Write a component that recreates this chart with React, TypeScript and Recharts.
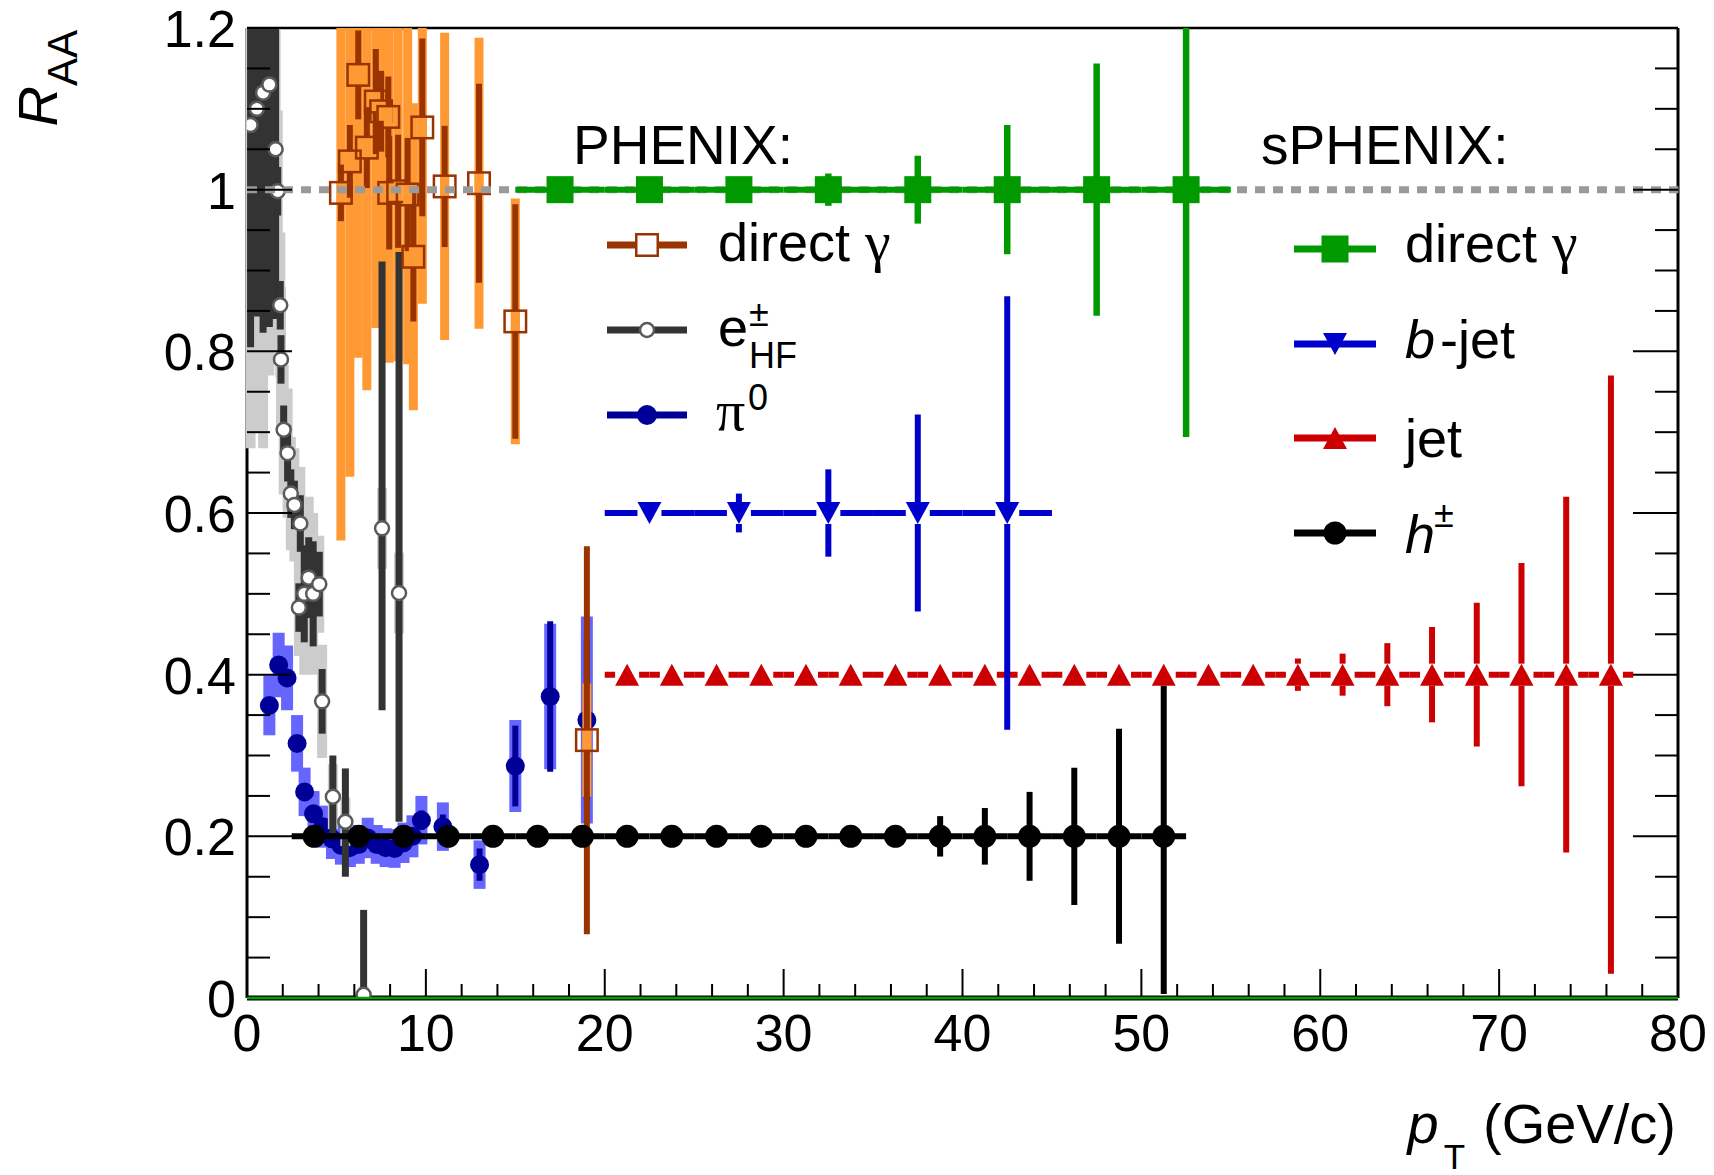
import React from 'react';
import { ComposedChart, Scatter, XAxis, YAxis, ErrorBar, ReferenceLine } from 'recharts';

const FONT = '"Liberation Sans", Arial, Helvetica, sans-serif';
const GREEK = '"Liberation Serif", "DejaVu Serif", serif';
const Y_MAX = 1.2;

// axis ticks
const xTicks = [0, 2, 4, 6, 8, 10, 12, 14, 16, 18, 20, 22, 24, 26, 28, 30, 32, 34, 36, 38, 40, 42, 44, 46, 48, 50, 52, 54, 56, 58, 60, 62, 64, 66, 68, 70, 72, 74, 76, 78, 80];
const xLabels = [0, 10, 20, 30, 40, 50, 60, 70, 80];
const yTicks = [0, 0.05, 0.1, 0.15, 0.2, 0.25, 0.3, 0.35, 0.4, 0.45, 0.5, 0.55, 0.6, 0.65, 0.7, 0.75, 0.8, 0.85, 0.9, 0.95, 1, 1.05, 1.1, 1.15, 1.2];
const yLabels = ['0', '0.2', '0.4', '0.6', '0.8', '1', '1.2'];

// sPHENIX projections
const sGammaX = [17.5, 22.5, 27.5, 32.5, 37.5, 42.5, 47.5, 52.5];
const sGammaY = [1, 1, 1, 1, 1, 1, 1, 1];
const sGammaErr = [0.004, 0.007, 0.012, 0.02, 0.042, 0.08, 0.156, 0.306];
const sGammaBin = 2.5;

const bJetX = [22.5, 27.5, 32.5, 37.5, 42.5];
const bJetY = [0.6, 0.6, 0.6, 0.6, 0.6];
const bJetErr = [0.008, 0.024, 0.054, 0.122, 0.268];
const bJetBin = 2.5;

const jetX = [21.25, 23.75, 26.25, 28.75, 31.25, 33.75, 36.25, 38.75, 41.25, 43.75, 46.25, 48.75, 51.25, 53.75, 56.25, 58.75, 61.25, 63.75, 66.25, 68.75, 71.25, 73.75, 76.25];
const jetY = [0.4, 0.4, 0.4, 0.4, 0.4, 0.4, 0.4, 0.4, 0.4, 0.4, 0.4, 0.4, 0.4, 0.4, 0.4, 0.4, 0.4, 0.4, 0.4, 0.4, 0.4, 0.4, 0.4];
const jetErr = [0.003, 0.003, 0.003, 0.004, 0.004, 0.004, 0.005, 0.005, 0.006, 0.006, 0.007, 0.008, 0.009, 0.01, 0.012, 0.02, 0.026, 0.039, 0.059, 0.089, 0.138, 0.22, 0.37];
const jetBin = 1.25;

const hX = [3.75, 6.25, 8.75, 11.25, 13.75, 16.25, 18.75, 21.25, 23.75, 26.25, 28.75, 31.25, 33.75, 36.25, 38.75, 41.25, 43.75, 46.25, 48.75, 51.25];
const hY = [0.2, 0.2, 0.2, 0.2, 0.2, 0.2, 0.2, 0.2, 0.2, 0.2, 0.2, 0.2, 0.2, 0.2, 0.2, 0.2, 0.2, 0.2, 0.2, 0.2];
const hErr = [0.002, 0.002, 0.002, 0.003, 0.003, 0.003, 0.004, 0.004, 0.005, 0.005, 0.006, 0.007, 0.008, 0.01, 0.025, 0.035, 0.055, 0.085, 0.133, 0.195];
const hBin = 1.25;

// PHENIX direct photons
const gX = [5.25, 5.75, 6.22, 6.7, 7.2, 7.5, 7.9, 7.95, 8.45, 8.98, 9.3, 9.8, 11.05, 12.97, 15.0, 19.0];
const gY = [0.996, 1.035, 1.142, 1.052, 1.109, 1.097, 1.09, 0.996, 0.998, 0.994, 0.917, 1.077, 1.004, 1.008, 0.837, 0.319];
const gStat = [0.035, 0.045, 0.055, 0.05, 0.065, 0.05, 0.05, 0.07, 0.07, 0.07, 0.08, 0.11, 0.075, 0.123, 0.145, 0.24];
const gSys = [0.43, 0.39, 0.35, 0.3, 0.28, 0.256, 0.25, 0.21, 0.21, 0.21, 0.19, 0.218, 0.19, 0.18, 0.152, 0.07];

// PHENIX heavy-flavour electrons
const eX = [0.2, 0.55, 0.9, 1.25, 1.6, 1.72, 1.86, 1.9, 2.05, 2.27, 2.45, 2.65, 2.9, 2.98, 3.2, 3.45, 3.7, 4.04, 4.2, 4.8, 5.5, 6.52, 7.55, 8.5];
const eY = [1.08, 1.1, 1.12, 1.13, 1.05, 0.998, 0.857, 0.79, 0.703, 0.674, 0.624, 0.61, 0.483, 0.587, 0.5, 0.52, 0.5, 0.512, 0.367, 0.249, 0.218, 0.004, 0.581, 0.501];
const eStatLo = [0.275, 0.257, 0.297, 0.3, 0.21, 0.03, 0.03, 0.03, 0.03, 0.035, 0.03, 0.03, 0.03, 0.035, 0.06, 0.05, 0.065, 0.04, 0.04, 0.045, 0.068, 0.004, 0.225, 0.283];
const eStatHi = [0.4, 0.4, 0.4, 0.4, 0.3, 0.03, 0.03, 0.03, 0.03, 0.035, 0.03, 0.03, 0.03, 0.035, 0.06, 0.05, 0.065, 0.04, 0.04, 0.051, 0.066, 0.105, 0.33, 0.422];
const eSys = [0.4, 0.4, 0.44, 0.36, 0.25, 0.1, 0.09, 0.09, 0.08, 0.08, 0.07, 0.07, 0.06, 0.07, 0.1, 0.1, 0.1, 0.06, 0.07, 0.04, 0.03, 0.01, 0.05, 0.05];

// PHENIX pi0
const pX = [1.25, 1.77, 2.24, 2.8, 3.22, 3.72, 4.25, 4.75, 5.25, 5.75, 6.25, 6.75, 7.25, 7.75, 8.25, 8.75, 9.25, 9.75, 10.95, 13.0, 15.0, 16.95, 19.0];
const pY = [0.362, 0.412, 0.396, 0.315, 0.255, 0.228, 0.212, 0.197, 0.189, 0.186, 0.19, 0.198, 0.19, 0.186, 0.185, 0.192, 0.2, 0.22, 0.212, 0.165, 0.287, 0.373, 0.344];
const pStat = [0.01, 0.01, 0.01, 0.008, 0.008, 0.008, 0.008, 0.008, 0.008, 0.008, 0.008, 0.008, 0.008, 0.008, 0.009, 0.01, 0.01, 0.012, 0.015, 0.02, 0.05, 0.093, 0.1];
const pSys = [0.037, 0.04, 0.04, 0.035, 0.03, 0.028, 0.026, 0.025, 0.024, 0.024, 0.024, 0.025, 0.024, 0.024, 0.024, 0.025, 0.026, 0.03, 0.03, 0.03, 0.057, 0.09, 0.128];

// reference lines
const unityLine = [{ x: 40, y: 1, ex: 40 }];

const C = {
  gamma: '#993300', gammaSys: '#ff9933',
  ehf: '#333333', ehfSys: '#cccccc', ehfMarker: '#5a5a5a',
  pi0: '#000099', pi0Sys: '#6666ff',
  sGamma: '#009900', bJet: '#0000cc', jet: '#cc0000', h: '#000000',
  unity: '#9a9a9a', zero: '#00a000',
};

// bars stop at the frame
const clip = (y: number, lo: number, hi: number) => [Math.min(lo, y), Math.min(hi, Y_MAX - y)];

const sGammaData = sGammaX.map((x, i) => ({ x, y: sGammaY[i], ex: sGammaBin, ey: clip(sGammaY[i], sGammaErr[i], sGammaErr[i]) }));
const bJetData = bJetX.map((x, i) => ({ x, y: bJetY[i], ex: bJetBin, ey: clip(bJetY[i], bJetErr[i], bJetErr[i]) }));
const jetData = jetX.map((x, i) => ({ x, y: jetY[i], ex: jetBin, ey: clip(jetY[i], jetErr[i], jetErr[i]) }));
const hData = hX.map((x, i) => ({ x, y: hY[i], ex: hBin, ey: clip(hY[i], hErr[i], hErr[i]) }));
const gData = gX.map((x, i) => ({ x, y: gY[i], stat: clip(gY[i], gStat[i], gStat[i]), sys: clip(gY[i], gSys[i], gSys[i]) }));
const eData = eX.map((x, i) => ({ x, y: eY[i], stat: clip(eY[i], eStatLo[i], eStatHi[i]), sys: clip(eY[i], eSys[i], eSys[i]) }));
const pData = pX.map((x, i) => ({ x, y: pY[i], stat: clip(pY[i], pStat[i], pStat[i]), sys: clip(pY[i], pSys[i], pSys[i]) }));

const G_BOX = 9;

// markers
const drawSquare = (cx: number, cy: number, s: number, fill: string, stroke?: string, sw = 0) => (
  <rect x={cx - s / 2} y={cy - s / 2} width={s} height={s} fill={fill} stroke={stroke} strokeWidth={sw} />
);
// open square: the stat bar is not drawn inside the marker, the sys box shows through
const drawOpenSquare = (cx: number, cy: number) => (
  <g>
    <rect x={cx - G_BOX / 2} y={cy - 10.75} width={G_BOX} height={21.5} fill={C.gammaSys} />
    <rect x={cx - 10.75} y={cy - 10.75} width={21.5} height={21.5} fill="none" stroke={C.gamma} strokeWidth={2.5} />
  </g>
);
const drawCircle = (cx: number, cy: number, r: number, fill: string, stroke?: string, sw = 0) => (
  <circle cx={cx} cy={cy} r={r} fill={fill} stroke={stroke} strokeWidth={sw} />
);
const drawTriangle = (cx: number, cy: number, up: boolean, color: string, gap: boolean) => {
  const w = 12;
  const h = 11;
  const pts = up
    ? `${cx - w},${cy + h} ${cx + w},${cy + h} ${cx},${cy - h}`
    : `${cx - w},${cy - h} ${cx + w},${cy - h} ${cx},${cy + h}`;
  return (
    <g>
      {gap && <rect x={cx - w} y={cy - h} width={2 * w} height={2 * h} fill="#fff" />}
      <polygon points={pts} fill={color} />
    </g>
  );
};
const shapeOf = (draw: (cx: number, cy: number) => React.ReactElement) => (p: any) =>
  p.cx == null || p.cy == null ? <g /> : draw(p.cx, p.cy);
const blank = () => <g />;

// ticks, ROOT style (inward, minor + major)
const isMajorY = (v: number) => Math.abs(v * 5 - Math.round(v * 5)) < 1e-6;

const BottomTick = (p: any) => {
  const { x, y, payload } = p;
  const major = xLabels.includes(payload.value);
  return (
    <g>
      <line x1={x} x2={x} y1={y} y2={y - (major ? 29 : 14)} stroke="#000" strokeWidth={2} />
      {major && (
        <text x={x} y={y + 53} textAnchor="middle" fontSize={52} fontFamily={FONT} fill="#000">
          {payload.value}
        </text>
      )}
    </g>
  );
};
const TopTick = (p: any) => {
  const { x, y, payload } = p;
  const major = xLabels.includes(payload.value);
  return <line x1={x} x2={x} y1={y} y2={y + (major ? 30 : 15)} stroke="#000" strokeWidth={2} />;
};
const LeftTick = (p: any) => {
  const { x, y, payload } = p;
  const major = isMajorY(payload.value);
  return (
    <g>
      <line x1={x} x2={x + (major ? 45 : 23)} y1={y} y2={y} stroke="#000" strokeWidth={2} />
      {major && (
        <text x={x - 11} y={y + 19} textAnchor="end" fontSize={52} fontFamily={FONT} fill="#000">
          {yLabels[Math.round(payload.value * 5)]}
        </text>
      )}
    </g>
  );
};
const RightTick = (p: any) => {
  const { x, y, payload } = p;
  const major = isMajorY(payload.value);
  return <line x1={x} x2={x - (major ? 45 : 23)} y1={y} y2={y} stroke="#000" strokeWidth={2} />;
};

function Overlay() {
  const row = (x1: number, x2: number, y: number, color: string, marker: React.ReactElement) => (
    <g>
      <line x1={x1} x2={x2} y1={y} y2={y} stroke={color} strokeWidth={7} />
      {marker}
    </g>
  );
  return (
    <svg width={1714} height={1175} style={{ position: 'absolute', left: 0, top: 0, pointerEvents: 'none' }}>
      <g fontFamily={FONT} fill="#000">
        {/* PHENIX legend */}
        <text x={573} y={164} fontSize={55}>PHENIX:</text>
        {row(607, 687, 245, C.gamma, drawSquare(647, 245, 21.5, '#fff', C.gamma, 2.5))}
        <text x={718} y={261} fontSize={54}>
          direct <tspan fontFamily={GREEK} fontSize={58}>γ</tspan>
        </text>
        {row(607, 687, 330, C.ehf, drawCircle(647, 330, 7, '#fff', C.ehfMarker, 2.5))}
        <text x={718} y={346} fontSize={54}>e</text>
        <text x={749} y={326} fontSize={36}>±</text>
        <text x={749} y={368} fontSize={36}>HF</text>
        {row(607, 687, 415, C.pi0, drawCircle(647, 415, 10, C.pi0))}
        <text x={716} y={430} fontSize={58} fontFamily={GREEK}>π</text>
        <text x={748} y={410} fontSize={36}>0</text>

        {/* sPHENIX legend */}
        <text x={1261} y={164} fontSize={55}>sPHENIX:</text>
        {row(1294, 1376, 249, C.sGamma, drawSquare(1335, 249, 27, C.sGamma))}
        <text x={1405} y={262} fontSize={54}>
          direct <tspan fontFamily={GREEK} fontSize={58}>γ</tspan>
        </text>
        {row(1294, 1376, 344, C.bJet, drawTriangle(1335, 344, false, C.bJet, false))}
        <text x={1405} y={358} fontSize={54}>
          <tspan fontStyle="italic">b</tspan>
          <tspan dx={5}>-jet</tspan>
        </text>
        {row(1294, 1376, 438, C.jet, drawTriangle(1335, 438, true, C.jet, false))}
        <text x={1405} y={457} fontSize={54}>jet</text>
        {row(1294, 1376, 533, C.h, drawCircle(1335, 533, 11.5, C.h))}
        <text x={1405} y={553} fontSize={54} fontStyle="italic">h</text>
        <text x={1434} y={527} fontSize={36}>±</text>

        {/* axis titles */}
        <text transform="rotate(-90)" x={-30} y={57} textAnchor="end" fontSize={56}>
          <tspan fontStyle="italic">R</tspan>
          <tspan fontSize={42} dy={20}>AA</tspan>
        </text>
        <text x={1676} y={1143} textAnchor="end" fontSize={56}>
          <tspan fontStyle="italic">p</tspan>
          <tspan fontSize={35} dy={26} dx={5}>T</tspan>
          <tspan dy={-26} dx={18}>(GeV/c)</tspan>
        </text>
      </g>
    </svg>
  );
}

export default function App() {
  return (
    <div style={{ position: 'absolute', left: 0, top: 0, width: 1714, height: 1175, background: '#fff' }}>
      <ComposedChart width={1714} height={1175} margin={{ top: 27, right: 35, bottom: 117, left: 187 }}>
        <XAxis dataKey="x" type="number" domain={[0, 80]} allowDataOverflow ticks={xTicks} interval={0}
          tick={BottomTick} tickLine={false} tickSize={0} tickMargin={0} height={60}
          axisLine={{ stroke: '#000', strokeWidth: 5 }} />
        <XAxis xAxisId="top" orientation="top" type="number" domain={[0, 80]} allowDataOverflow ticks={xTicks}
          interval={0} tick={TopTick} tickLine={false} tickSize={0} tickMargin={0} height={1}
          axisLine={{ stroke: '#000', strokeWidth: 2.5 }} />
        <YAxis dataKey="y" type="number" domain={[0, Y_MAX]} allowDataOverflow ticks={yTicks} interval={0}
          tick={LeftTick} tickLine={false} tickSize={0} tickMargin={0} width={60}
          axisLine={{ stroke: '#000', strokeWidth: 3 }} />
        <YAxis yAxisId="right" orientation="right" type="number" domain={[0, Y_MAX]} allowDataOverflow ticks={yTicks}
          interval={0} tick={RightTick} tickLine={false} tickSize={0} tickMargin={0} width={1}
          axisLine={{ stroke: '#000', strokeWidth: 3 }} />

        {/* PHENIX pi0 */}
        <Scatter data={pData} shape={blank} isAnimationActive={false} zIndex={610}>
          <ErrorBar dataKey="sys" direction="y" width={0} stroke={C.pi0Sys} strokeWidth={12} zIndex={610} isAnimationActive={false} />
        </Scatter>
        <Scatter data={pData} shape={shapeOf((cx, cy) => drawCircle(cx, cy, 9.5, C.pi0))} isAnimationActive={false} zIndex={621}>
          <ErrorBar dataKey="stat" direction="y" width={0} stroke={C.pi0} strokeWidth={6} zIndex={620} isAnimationActive={false} />
        </Scatter>

        {/* PHENIX direct gamma, systematic boxes */}
        <Scatter data={gData} shape={blank} isAnimationActive={false} zIndex={630}>
          <ErrorBar dataKey="sys" direction="y" width={0} stroke={C.gammaSys} strokeWidth={G_BOX} zIndex={630} isAnimationActive={false} />
        </Scatter>

        {/* PHENIX e HF */}
        <Scatter data={eData} shape={blank} isAnimationActive={false} zIndex={640}>
          <ErrorBar dataKey="sys" direction="y" width={0} stroke={C.ehfSys} strokeWidth={10} zIndex={640} isAnimationActive={false} />
        </Scatter>
        <Scatter data={eData} shape={shapeOf((cx, cy) => drawCircle(cx, cy, 7, '#fff', C.ehfMarker, 2.5))} isAnimationActive={false} zIndex={651}>
          <ErrorBar dataKey="stat" direction="y" width={0} stroke={C.ehf} strokeWidth={7} zIndex={650} isAnimationActive={false} />
        </Scatter>

        {/* PHENIX direct gamma */}
        <Scatter data={gData} shape={shapeOf(drawOpenSquare)} isAnimationActive={false} zIndex={661}>
          <ErrorBar dataKey="stat" direction="y" width={0} stroke={C.gamma} strokeWidth={6} zIndex={660} isAnimationActive={false} />
        </Scatter>

        {/* R_AA = 1 */}
        <Scatter data={unityLine} shape={blank} isAnimationActive={false} zIndex={670}>
          <ErrorBar dataKey="ex" direction="x" width={0} stroke={C.unity} strokeWidth={7} strokeDasharray="10 8" zIndex={670} isAnimationActive={false} />
        </Scatter>

        {/* sPHENIX h+- */}
        <Scatter data={hData} shape={shapeOf((cx, cy) => drawCircle(cx, cy, 11.5, C.h))} isAnimationActive={false} zIndex={681}>
          <ErrorBar dataKey="ex" direction="x" width={0} stroke={C.h} strokeWidth={6} zIndex={680} isAnimationActive={false} />
          <ErrorBar dataKey="ey" direction="y" width={0} stroke={C.h} strokeWidth={6} zIndex={680} isAnimationActive={false} />
        </Scatter>

        {/* sPHENIX jet */}
        <Scatter data={jetData} shape={shapeOf((cx, cy) => drawTriangle(cx, cy, true, C.jet, true))} isAnimationActive={false} zIndex={691}>
          <ErrorBar dataKey="ex" direction="x" width={0} stroke={C.jet} strokeWidth={6} zIndex={690} isAnimationActive={false} />
          <ErrorBar dataKey="ey" direction="y" width={0} stroke={C.jet} strokeWidth={6} zIndex={690} isAnimationActive={false} />
        </Scatter>

        {/* sPHENIX b-jet */}
        <Scatter data={bJetData} shape={shapeOf((cx, cy) => drawTriangle(cx, cy, false, C.bJet, true))} isAnimationActive={false} zIndex={701}>
          <ErrorBar dataKey="ex" direction="x" width={0} stroke={C.bJet} strokeWidth={6} zIndex={700} isAnimationActive={false} />
          <ErrorBar dataKey="ey" direction="y" width={0} stroke={C.bJet} strokeWidth={6} zIndex={700} isAnimationActive={false} />
        </Scatter>

        {/* sPHENIX direct gamma */}
        <Scatter data={sGammaData} shape={shapeOf((cx, cy) => drawSquare(cx, cy, 27, C.sGamma))} isAnimationActive={false} zIndex={711}>
          <ErrorBar dataKey="ex" direction="x" width={0} stroke={C.sGamma} strokeWidth={6} zIndex={710} isAnimationActive={false} />
          <ErrorBar dataKey="ey" direction="y" width={0} stroke={C.sGamma} strokeWidth={6.5} zIndex={710} isAnimationActive={false} />
        </Scatter>

        <ReferenceLine y={0} stroke={C.zero} strokeWidth={2.5} zIndex={2000} />
      </ComposedChart>
      <Overlay />
    </div>
  );
}
